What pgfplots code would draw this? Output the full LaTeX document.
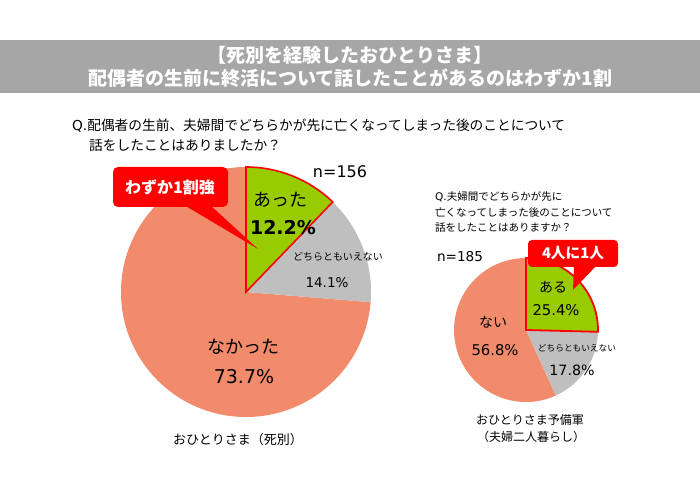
\documentclass[border=0pt]{standalone}
\usepackage{fontspec}
\setmainfont{Noto Sans CJK JP}
\newfontfamily\lat{DejaVu Sans}
\usepackage{pgfplots}
\pgfplotsset{compat=1.18}

\definecolor{salmon}{HTML}{F28B6C}
\definecolor{pgreen}{HTML}{99CC00}
\definecolor{pgray}{HTML}{BFBFBF}
\definecolor{bar}{HTML}{A6A6A6}

% wedge: cx, cy, r, start (%), share (%), style -- clockwise from 12 o'clock
\newcommand\piewedge[6]{%
  \path[#6] (axis cs:#1,#2) -- ++({90-3.6*(#4)}:#3pt)
    arc[start angle={90-3.6*(#4)}, end angle={90-3.6*(#4+#5)}, radius=#3pt] -- cycle;}
\newcommand\fs[1]{\fontsize{#1}{#1}\selectfont}

\begin{document}
\begin{tikzpicture}
\begin{axis}[
  x=1pt, y=1pt, xmin=0, xmax=700, ymin=0, ymax=495,
  hide axis, clip=false, scale only axis,
]
\fill[white] (axis cs:0,0) rectangle (axis cs:700,495);
% title bar
\fill[bar] (axis cs:0,402) rectangle (axis cs:700,455);
\node[white, font=\fs{19}\bfseries] at (axis cs:350,440) {【死別を経験したおひとりさま】};
\node[white, font=\fs{19}\bfseries] at (axis cs:350,417) {配偶者の生前に終活について話したことがあるのはわずか1割};

% left question
\node[anchor=west, inner sep=0, font=\fs{13.7}] at (axis cs:72,369) {{\lat Q.}配偶者の生前、夫婦間でどちらかが先に亡くなってしまった後のことについて};
\node[anchor=west, inner sep=0, font=\fs{13.7}] at (axis cs:89,350) {話をしたことはありましたか？};

% big pie: 12.2 / 14.1 / 73.7
\piewedge{246}{203}{125}{26.3}{73.7}{fill=salmon}
\piewedge{246}{203}{125}{12.2}{14.1}{fill=pgray}
\piewedge{246}{203}{125}{0}{12.2}{fill=pgreen, draw=red, line width=1.6pt, line join=miter}

\node[font=\fs{16}\lat] at (axis cs:340,323) {n=156};
\node[font=\fs{18}] at (axis cs:280,295) {あった};
\node[font=\fs{19}\lat\bfseries] at (axis cs:283,267) {12.2\%};
\node[font=\fs{10}] at (axis cs:338,238) {どちらともいえない};
\node[font=\fs{13.5}\lat] at (axis cs:327,212) {14.1\%};
\node[font=\fs{18}] at (axis cs:243,148) {なかった};
\node[font=\fs{19}\lat] at (axis cs:244,118) {73.7\%};
\node[font=\fs{13}] at (axis cs:238,55) {おひとりさま（死別）};

% callout left
\fill[red, rounded corners=5pt] (axis cs:113,288) rectangle (axis cs:228,328);
\fill[red] (axis cs:184,290) -- (axis cs:210,290) -- (axis cs:258,246) -- cycle;
\node[white, font=\fs{16}\bfseries] at (axis cs:170,308) {わずか1割強};

% right question
\node[anchor=west, inner sep=0, font=\fs{10.5}] at (axis cs:435,298) {{\lat Q.}夫婦間でどちらかが先に};
\node[anchor=west, inner sep=0, font=\fs{10.5}] at (axis cs:435,282) {亡くなってしまった後のことについて};
\node[anchor=west, inner sep=0, font=\fs{10.5}] at (axis cs:435,267) {話をしたことはありますか？};
\node[font=\fs{13.6}\lat] at (axis cs:460,238) {n=185};

% small pie: 25.4 / 17.8 / 56.8
\piewedge{526}{165}{72}{43.2}{56.8}{fill=salmon}
\piewedge{526}{165}{72}{25.4}{17.8}{fill=pgray}
\piewedge{526}{165}{72}{0}{25.4}{fill=pgreen, draw=red, line width=1.8pt, line join=miter}

\node[font=\fs{14}] at (axis cs:553,208) {ある};
\node[font=\fs{14.8}\lat] at (axis cs:556,185) {25.4\%};
\node[font=\fs{14}] at (axis cs:493,173) {ない};
\node[font=\fs{14.8}\lat] at (axis cs:495,145) {56.8\%};
\node[font=\fs{8.7}] at (axis cs:577,147) {どちらともいえない};
\node[font=\fs{14.2}\lat] at (axis cs:572,125) {17.8\%};
\node[font=\fs{12}] at (axis cs:530,75) {おひとりさま予備軍};
\node[font=\fs{12}] at (axis cs:531,58) {（夫婦二人暮らし）};

% callout right
\fill[red, rounded corners=4pt] (axis cs:528,228) rectangle (axis cs:618,255);
\fill[red] (axis cs:574,230) -- (axis cs:597,230) -- (axis cs:573,205) -- cycle;
\node[white, font=\fs{14.7}\bfseries] at (axis cs:573,242) {4人に1人};
\end{axis}
\end{tikzpicture}
\end{document}
